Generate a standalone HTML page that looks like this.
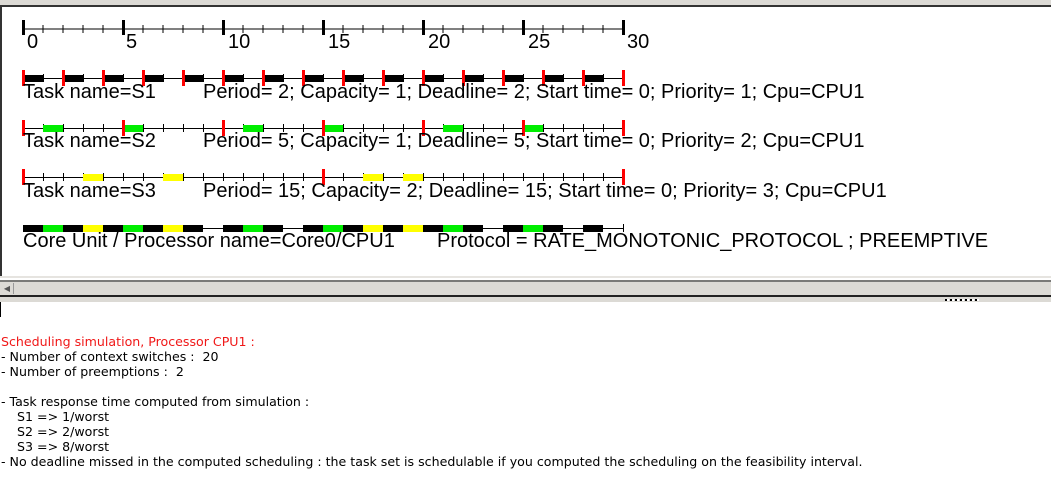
<!DOCTYPE html>
<html><head><meta charset="utf-8"><style>
html,body{margin:0;padding:0;width:1051px;height:483px;overflow:hidden;background:#fff;}
#top{position:absolute;left:0;top:0;width:1051px;height:5px;background:#dcdad5;}
#topline{position:absolute;left:0;top:5px;width:1051px;height:2px;background:#333;}
#lborder{position:absolute;left:0;top:5px;width:2px;height:272px;background:#333;}
svg{position:absolute;left:0;top:0;}
#sb1{position:absolute;left:0;top:276px;width:1051px;height:2px;background:#e6e4e0;}
#sb2{position:absolute;left:0;top:280px;width:1051px;height:2px;background:#7a7a78;}
#sb{position:absolute;left:0;top:282px;width:1051px;height:13px;background:#dcdad5;}
#sbbtn{position:absolute;left:1px;top:283px;width:12px;height:11px;border-right:1px solid #999;font-size:8px;color:#555;line-height:11px;text-align:center;}
#sb3{position:absolute;left:0;top:295px;width:1051px;height:2px;background:#222;}
#sb4{position:absolute;left:0;top:297px;width:1051px;height:5px;background:#dcdad5;}
#cursor{position:absolute;left:0;top:302px;width:1px;height:15px;background:#000;}
#log{position:absolute;left:1px;top:334px;font-family:"DejaVu Sans",sans-serif;font-size:12.6px;line-height:15px;color:#000;white-space:pre;}
</style></head><body>
<div id="top"></div><div id="topline"></div><div id="lborder"></div>
<svg width="1051" height="280" xmlns="http://www.w3.org/2000/svg" font-family="Liberation Sans, Arial, sans-serif" font-size="20">
<line x1="23" y1="29" x2="624" y2="29" stroke="#000" stroke-width="1"/>
<g stroke="#000" stroke-width="1">
<path d="M43 25v8M63 25v8M83 25v8M103 25v8M143 25v8M163 25v8M183 25v8M203 25v8M243 25v8M263 25v8M283 25v8M303 25v8M343 25v8M363 25v8M383 25v8M403 25v8M443 25v8M463 25v8M483 25v8M503 25v8M543 25v8M563 25v8M583 25v8M603 25v8"/>
</g>
<g fill="#000">
<rect x="22" y="20" width="3" height="15"/><rect x="122" y="20" width="3" height="15"/><rect x="222" y="20" width="3" height="15"/><rect x="322" y="20" width="3" height="15"/><rect x="422" y="20" width="3" height="15"/><rect x="522" y="20" width="3" height="15"/><rect x="622" y="20" width="3" height="15"/>
</g>
<g fill="#000"><text x="27" y="48">0</text><text x="126" y="48">5</text><text x="228" y="48">10</text><text x="328" y="48">15</text><text x="428" y="48">20</text><text x="528" y="48">25</text><text x="627" y="48">30</text></g>
<script>
(function(){
var ns="http://www.w3.org/2000/svg",svg=document.querySelector('svg');
function r(x,y,w,h,c){var e=document.createElementNS(ns,'rect');e.setAttribute('x',x);e.setAttribute('y',y);e.setAttribute('width',w);e.setAttribute('height',h);e.setAttribute('fill',c);svg.appendChild(e);}
function row(ly,blocks,color,reds,ticks){
 r(23,ly,601,1,'#000');
 if(ticks){for(var t=1;t<30;t++)r(23+20*t,ly-4,1,8,'#000');}
 blocks.forEach(function(b){r(23+20*b,ly-3,20,7,color);});
 reds.forEach(function(t){r(22+20*t,ly-8,3,16,'#f00');});
}
var s1=[];for(var t=0;t<30;t+=2)s1.push(t);
row(78,s1,'#000',[0,2,4,6,8,10,12,14,16,18,20,22,24,26,28,30],true);
row(128,[1,5,11,15,21,25],'#00ee00',[0,5,10,15,20,25,30],true);
row(177,[3,7,17,19],'#ffff00',[0,15,30],true);
r(23,228,601,1,'#000');r(623,224,1,8,'#000');
var core={0:'#000',1:'#00ee00',2:'#000',3:'#ffff00',4:'#000',5:'#00ee00',6:'#000',7:'#ffff00',8:'#000',10:'#000',11:'#00ee00',12:'#000',14:'#000',15:'#00ee00',16:'#000',17:'#ffff00',18:'#000',19:'#ffff00',20:'#000',21:'#00ee00',22:'#000',24:'#000',25:'#00ee00',26:'#000',28:'#000'};
for(var k in core)r(23+20*k,225,20,7,core[k]);
})();
</script>
<g fill="#000">
<text x="23" y="98">Task name=S1</text><text x="203" y="98">Period= 2; Capacity= 1; Deadline= 2; Start time= 0; Priority= 1; Cpu=CPU1</text>
<text x="23" y="147">Task name=S2</text><text x="203" y="147">Period= 5; Capacity= 1; Deadline= 5; Start time= 0; Priority= 2; Cpu=CPU1</text>
<text x="23" y="197">Task name=S3</text><text x="203" y="197">Period= 15; Capacity= 2; Deadline= 15; Start time= 0; Priority= 3; Cpu=CPU1</text>
<text x="23" y="247">Core Unit / Processor name=Core0/CPU1</text><text x="437" y="247">Protocol = RATE_MONOTONIC_PROTOCOL ; PREEMPTIVE</text>
</g>
</svg>
<div id="sb1"></div><div id="sb2"></div><div id="sb"></div><div id="sbbtn">◀</div><div id="sb3"></div><div id="sb4"></div>
<div style="position:absolute;left:945px;top:299px;width:34px;height:2px;background:repeating-linear-gradient(90deg,#000 0 2px,#fff 2px 4px,transparent 4px 5px);"></div>
<div id="cursor"></div>
<div id="log"><span style="color:#f01818">Scheduling simulation, Processor CPU1 :</span>
- Number of context switches :  20
- Number of preemptions :  2

- Task response time computed from simulation :
    S1 =&gt; 1/worst
    S2 =&gt; 2/worst
    S3 =&gt; 8/worst
- No deadline missed in the computed scheduling : the task set is schedulable if you computed the scheduling on the feasibility interval.</div>
</body></html>
